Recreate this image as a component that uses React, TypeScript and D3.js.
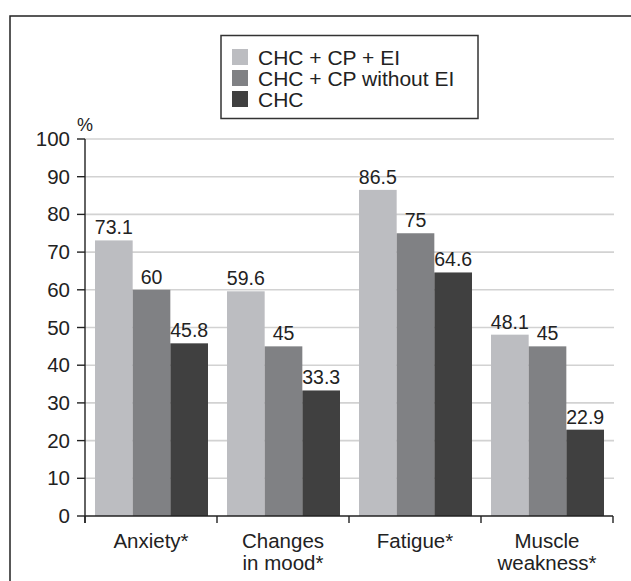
import React from "react";
import * as d3 from "d3";

const categories: string[][] = [["Anxiety*"], ["Changes", "in mood*"], ["Fatigue*"], ["Muscle", "weakness*"]];
const seriesNames = ["CHC + CP + EI", "CHC + CP without EI", "CHC"];
const seriesColors = ["#bcbdc1", "#808184", "#404040"];
const valuesEI = [73.1, 59.6, 86.5, 48.1];
const valuesNoEI = [60, 45, 75, 45];
const valuesCHC = [45.8, 33.3, 64.6, 22.9];
const yTicks = [0, 10, 20, 30, 40, 50, 60, 70, 80, 90, 100];

const seriesValues = [valuesEI, valuesNoEI, valuesCHC];
const FONT = "'Liberation Sans', Arial, Helvetica, sans-serif";

export default function App() {
  const W = 631;
  const H = 581;
  const left = 85;
  const right = 613;
  const top = 139;
  const bottom = 516;

  const x = d3
    .scaleBand<number>()
    .domain(categories.map((_, i) => i))
    .range([left, right])
    .paddingInner(0)
    .paddingOuter(0);
  const bw = x.bandwidth();
  const inner = d3
    .scaleBand<number>()
    .domain(seriesNames.map((_, i) => i))
    .range([10, bw - 9])
    .padding(0);
  const y = d3.scaleLinear().domain([0, 100]).range([bottom, top]);

  const boundaries = [...categories.map((_, i) => x(i) as number), right];

  return (
    <svg width={W} height={H} style={{ position: "absolute", left: 0, top: 0 }} fontFamily={FONT}>
      <rect x={0} y={0} width={W} height={H} fill="#fff" />
      <rect x={10} y={16} width={700} height={700} fill="none" stroke="#222" strokeWidth={1.5} />

      {/* gridlines */}
      {yTicks.filter((t) => t > 0).map((t) => (
        <line key={"g" + t} x1={left} x2={614} y1={y(t)} y2={y(t)} stroke="#d2d2d2" strokeWidth={1.6} />
      ))}

      {/* bars */}
      {categories.map((_, ci) =>
        seriesValues.map((vals, si) => {
          const bx = (x(ci) as number) + (inner(si) as number);
          const v = vals[ci];
          return (
            <g key={ci + "-" + si}>
              <rect x={bx} y={y(v)} width={inner.bandwidth()} height={y(0) - y(v)} fill={seriesColors[si]} />
              <text
                x={bx + inner.bandwidth() / 2}
                y={y(v) - 6}
                textAnchor="middle"
                fontSize={19.5}
                fill="#222"
              >
                {String(v)}
              </text>
            </g>
          );
        })
      )}

      {/* y axis */}
      <line x1={left} x2={left} y1={top} y2={bottom + 7} stroke="#222" strokeWidth={1.4} />
      {yTicks.map((t) => (
        <g key={"t" + t}>
          <line x1={left - 8} x2={left} y1={y(t)} y2={y(t)} stroke="#222" strokeWidth={1.4} />
          <text x={70} y={y(t) + 7} textAnchor="end" fontSize={20.5} fill="#222">
            {t}
          </text>
        </g>
      ))}
      <text x={77} y={131} fontSize={18} fill="#222">%</text>

      {/* x axis */}
      <line x1={left} x2={right} y1={bottom} y2={bottom} stroke="#222" strokeWidth={1.4} />
      {boundaries.map((b, i) => (
        <line key={"xb" + i} x1={b} x2={b} y1={bottom} y2={bottom + 7} stroke="#222" strokeWidth={1.4} />
      ))}
      {categories.map((lines, ci) => (
        <text key={"c" + ci} x={(x(ci) as number) + bw / 2} y={548} textAnchor="middle" fontSize={20.5} fill="#222">
          {lines.map((l, li) => (
            <tspan key={li} x={(x(ci) as number) + bw / 2} dy={li === 0 ? 0 : 22}>
              {l}
            </tspan>
          ))}
        </text>
      ))}

      {/* legend */}
      <rect x={221} y={35.5} width={257} height={83} fill="#fff" stroke="#333" strokeWidth={1.5} />
      {seriesNames.map((n, i) => (
        <g key={"l" + i}>
          <rect x={232} y={49 + i * 21} width={16} height={16} fill={seriesColors[i]} />
          <text x={258} y={64.5 + i * 21} fontSize={21} fill="#222">
            {n}
          </text>
        </g>
      ))}
    </svg>
  );
}
